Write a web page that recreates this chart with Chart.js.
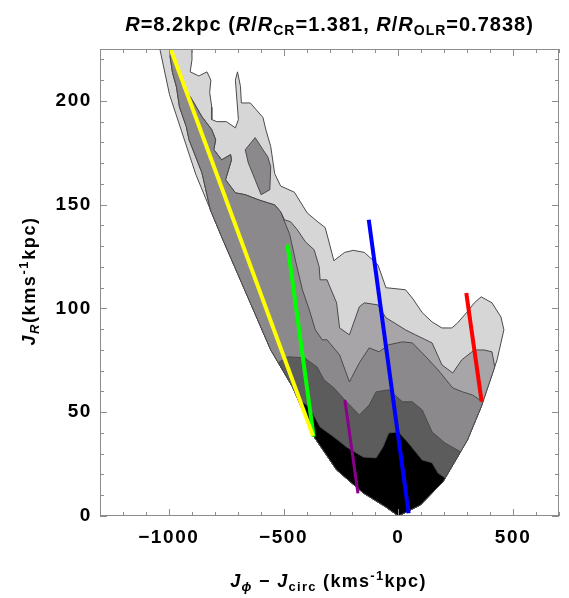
<!DOCTYPE html>
<html><head><meta charset="utf-8">
<script src="https://cdn.jsdelivr.net/npm/chart.js@4/dist/chart.umd.min.js"></script>
<style>html,body{margin:0;padding:0;background:#fff}#wrap{width:569px;height:598px}</style>
</head><body><div id="wrap"><canvas id="c" width="569" height="598"></canvas></div>
<script>
// ---- tick labels ----
const xTickLabels = [-1000, -500, 0, 500];
const yTickLabels = [0, 50, 100, 150, 200];

// ---- envelope of the populated region ----
const edgeLeft = [[-1045,228],[-997,203],[-882,164.4],[-770,134.5],[-645,102.7],[-556,80],[-461,62.2],[-367,38.1],[-269,22.2],[-153,11.1],[-54,4.3],[0,0]];
const edgeRight = [[0,0],[96,5.3],[194,16.4],[301,36.6],[361,52.6],[430,75.2],[460,89.7]];

// ---- contour boundaries (left to right) ----
const level1Line = [[-1045,228],[-900,228],[-899,220],[-907,214],[-869,212],[-834,214],[-817,210],[-822,204],[-813,197],[-813,191],[-791,190],[-749,190],[-710,187],[-697,191],[-701,197],[-710,210],[-701,214],[-688,207],[-684,199],[-645,199],[-590,192],[-577,186],[-556,178],[-539,165],[-513,159],[-453,156],[-397,146],[-354,142],[-319,139],[-302,132],[-281,123],[-234,127],[-196,128],[-148,127],[-89,121],[-54,110],[31,109],[61,105],[104,98],[147,93.5],[190,90.6],[233,90.6],[258,93],[297,98],[331,102.7],[361,105.6],[408,102.7],[447,95.9],[460,89.7]];
const level2Line = [[-819,147.5],[-856,165.4],[-912,181.3],[-924,187.6],[-954,197.2],[-967,206.8],[-984,213.6],[-997,223.2],[-989,224.7],[-967,217.5],[-946,208.8],[-899,200.6],[-856,192.4],[-813,186.1],[-796,181.3],[-804,176.5],[-770,171.6],[-731,174.1],[-727,171.6],[-753,162],[-710,155.7],[-667,154.8],[-611,152.4],[-569,150.9],[-539,149.9],[-513,146.6],[-496,142.7],[-470,141.8],[-440,137.9],[-405,132.1],[-367,128.3],[-345,120.1],[-341,113.8],[-311,113.8],[-269,102.7],[-256,90.6],[-213,87.3],[-170,100.8],[-148,102.7],[-89,101.7],[-54,95.5],[-24,93.5],[31,89.7],[74,87.3],[147,83.4],[190,72.8],[237,68.9],[276,75.2],[331,80],[374,80],[408,79.1],[420,71.8]];
const level3Island = [[-667,176.5],[-624,182.3],[-590,176.5],[-569,173.1],[-556,168.3],[-560,157.2],[-598,154.8],[-624,162],[-654,170.2]];
const level3Line = [[-819,147.5],[-856,165.4],[-912,181.3],[-924,187.6],[-954,197.2],[-967,206.8],[-984,213.6],[-997,223.2],[-989,224.7],[-967,217.5],[-946,208.8],[-899,200.6],[-856,192.4],[-813,186.1],[-796,181.3],[-804,176.5],[-770,171.6],[-731,174.1],[-727,171.6],[-753,162],[-710,155.7],[-667,154.8],[-611,152.4],[-569,150.9],[-539,149.9],[-513,146.6],[-473,135.5],[-449,123.4],[-418,109],[-388,99.3],[-362,89.7],[-332,84.9],[-311,84.9],[-256,77.6],[-213,64.6],[-170,73.8],[-127,81],[-84,79.1],[-42,82.5],[18,83.9],[61,83.4],[117,77.1],[173,70.4],[237,61.7],[280,59.8],[323,58.3],[368,55]];
const level4Line = [[-523,73.8],[-483,76.7],[-410,76.2],[-354,71.8],[-324,65.6],[-281,61.7],[-226,55],[-170,48.7],[-127,53.5],[-97,59.8],[-42,60.8],[18,55],[61,55],[104,51.1],[147,40.5],[203,35.2],[271,30.9]];
const level5Line = [[-440,56.9],[-389,52.6],[-341,42.9],[-281,38.1],[-226,33.3],[-153,28.4],[-97,28],[-67,33.3],[-42,40],[1,40.5],[44,35.2],[104,27],[147,25.6],[173,20.7],[204,18.3]];

// ---- straight coloured lines ----
const yellowLine = [[-1002,228],[-372,38.6]];
const greenLine  = [[-483,130.7],[-369,38.2]];
const purpleLine = [[-233,55.9],[-176,10.9]];
const blueLine   = [[-129,142.7],[45,1.3]];
const redLine    = [[296,107.4],[363,55.1]];

const levelColors = ['#d6d6d6','#a8a5a8','#8c898c','#5c5c5c','#000000'];

const pts = a => a.map(p => ({x:p[0], y:p[1]}));
function region(line){
  const first = line[0], last = line[line.length-1];
  const r = edgeRight.filter(p => p[1] < last[1]).reverse();
  const l = edgeLeft.filter(p => p[1] < first[1]).reverse();
  return pts(line.concat(r, l, [first]));
}
function poly(data, color, order){
  return {data, showLine:true, fill:'shape', backgroundColor:color, borderColor:'#4a4a4a',
          borderWidth:1, pointRadius:0, tension:0, order, clip:0};
}
function seg(a, color, w){
  return {data:pts(a), showLine:true, fill:false, borderColor:color, borderWidth:w,
          pointRadius:0, order:1, clip:0, borderCapStyle:'butt'};
}

const FAM = "'Liberation Sans', Arial, 'DejaVu Sans', sans-serif";
function fontOf(s, size){
  const fs = (s.sub || s.sup) ? Math.round(size*0.7) : size;
  return (s.i ? 'italic ' : '') + 'bold ' + fs + 'px ' + FAM;
}
function richWidth(ctx, segs, size){
  let w = 0;
  for (const s of segs){ ctx.font = fontOf(s, size); w += ctx.measureText(s.t).width; }
  return w;
}
function drawRich(ctx, segs, cx, y, size, spacing){
  ctx.letterSpacing = spacing + 'px';
  let x = cx - richWidth(ctx, segs, size)/2;
  ctx.textBaseline = 'alphabetic'; ctx.textAlign = 'left'; ctx.fillStyle = '#000';
  for (const s of segs){
    ctx.font = fontOf(s, size);
    const dy = s.sub ? size*0.22 : (s.sup ? -size*0.38 : 0);
    ctx.fillText(s.t, x, y + dy);
    x += ctx.measureText(s.t).width;
  }
  ctx.letterSpacing = '0px';
}
const titleSegs = [{t:'R',i:1},{t:'=8.2kpc ('},{t:'R',i:1},{t:'/'},{t:'R',i:1},{t:'CR',sub:1},{t:'=1.381, '},{t:'R',i:1},{t:'/'},{t:'R',i:1},{t:'OLR',sub:1},{t:'=0.7838)'}];
const xTitleSegs = [{t:'J',i:1},{t:'\u03D5',i:1,sub:1},{t:' \u2212 '},{t:'J',i:1},{t:'circ',sub:1},{t:' (kms'},{t:'-1',sup:1},{t:'kpc)'}];
const yTitleSegs = [{t:'J',i:1},{t:'R',i:1,sub:1},{t:'(kms'},{t:'-1',sup:1},{t:'kpc)'}];

const spacingPlugin = {
  id:'spacing',
  beforeDraw(chart){ chart.ctx.letterSpacing = '1.6px'; },
  afterDatasetsDraw(chart){ chart.ctx.letterSpacing = '1.6px'; }
};

const framePlugin = {
  id:'frame',
  afterDraw(chart){
    const {ctx, chartArea:a, scales:{x, y}} = chart;
    ctx.save();
    ctx.letterSpacing = '0px';
    ctx.strokeStyle = '#8c8c8c'; ctx.lineWidth = 1;
    ctx.strokeRect(a.left+0.5, a.top+0.5, a.right-a.left-1, a.bottom-a.top-1);
    ctx.beginPath();
    for (let v = -1300; v <= 700; v += 100){
      const px = Math.round(x.getPixelForValue(v)) + 0.5;
      const len = (v % 500 === 0) ? 7 : 4;
      ctx.moveTo(px, a.bottom); ctx.lineTo(px, a.bottom - len);
      ctx.moveTo(px, a.top); ctx.lineTo(px, a.top + len);
    }
    for (let v = 0; v <= 220; v += 10){
      const py = Math.round(y.getPixelForValue(v)) + 0.5;
      const len = (v % 50 === 0) ? 7 : 4;
      ctx.moveTo(a.left, py); ctx.lineTo(a.left + len, py);
      ctx.moveTo(a.right, py); ctx.lineTo(a.right - len, py);
    }
    ctx.stroke();
    drawRich(ctx, titleSegs, (a.left+a.right)/2, 31, 20, 1.0);
    drawRich(ctx, xTitleSegs, (a.left+a.right)/2 - 1, 587, 18, 1.3);
    ctx.translate(35, 281); ctx.rotate(-Math.PI/2);
    drawRich(ctx, yTitleSegs, 0, 0, 18, 1.6);
    ctx.restore();
  }
};

const fmt = v => v < 0 ? '\u2212' + Math.abs(v) : String(v);
new Chart(document.getElementById('c'), {
  type:'scatter',
  data:{ datasets:[
    seg(yellowLine,'#ffff00',4), seg(greenLine,'#00ff00',4), seg(purpleLine,'#8b008b',3),
    seg(blueLine,'#0000ff',4), seg(redLine,'#ff0000',4),
    poly(region(level5Line), levelColors[4], 6),
    poly(region(level4Line), levelColors[3], 7),
    poly(pts(level3Island.concat([level3Island[0]])), levelColors[2], 8),
    poly(region(level3Line), levelColors[2], 8),
    poly(region(level2Line), levelColors[1], 9),
    poly(region(level1Line), levelColors[0], 10)
  ]},
  options:{
    animation:false, responsive:false, devicePixelRatio:1,
    layout:{padding:{top:49, right:2, left:0, bottom:0}},
    plugins:{legend:{display:false}, tooltip:{enabled:false}},
    scales:{
      x:{type:'linear', min:-1300, max:700,
         grid:{display:false, drawTicks:false}, border:{display:false},
         ticks:{stepSize:100, autoSkip:false, maxRotation:0, padding:10, color:'#000',
                font:{family:FAM, size:19, weight:'bold'},
                callback:v => xTickLabels.includes(v) ? fmt(v) : ''},
         afterFit:s => { s.height = 82; }},
      y:{type:'linear', min:0, max:225,
         grid:{display:false, drawTicks:false}, border:{display:false},
         ticks:{stepSize:10, autoSkip:false, padding:8, color:'#000',
                font:{family:FAM, size:19, weight:'bold'},
                callback:v => yTickLabels.includes(v) ? fmt(v) : ''},
         afterFit:s => { s.width = 100; }}
    }
  },
  plugins:[spacingPlugin, framePlugin]
});
</script></body></html>
